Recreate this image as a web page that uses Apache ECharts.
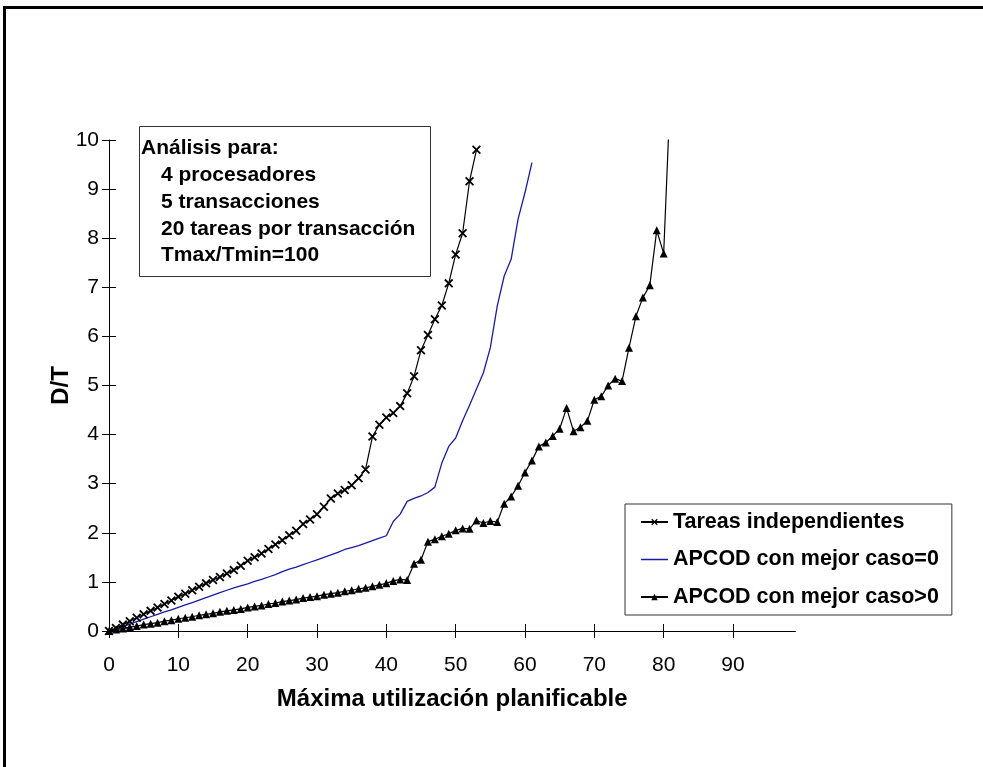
<!DOCTYPE html>
<html>
<head>
<meta charset="utf-8">
<script src="https://cdn.jsdelivr.net/npm/echarts@6/dist/echarts.min.js"></script>
<style>
html,body{margin:0;padding:0;background:#fff;}
#chart{width:983px;height:767px;}
</style>
</head>
<body>
<div id="chart"></div>
<script>
// ---- data ----
const xTareas = [0,1,2,3,4,5,6,7,8,9,10,11,12,13,14,15,16,17,18,19,20,21,22,23,24,25,26,27,28,29,30,31,32,33,34,35,36,37,38,39,40,41,42,43,44,45,46,47,48,49,50,51,52,53];
const yTareas = [0,0.06,0.13,0.20,0.27,0.34,0.41,0.48,0.55,0.62,0.70,0.76,0.83,0.90,0.97,1.04,1.10,1.17,1.24,1.33,1.43,1.50,1.58,1.67,1.76,1.85,1.95,2.04,2.18,2.27,2.38,2.53,2.70,2.80,2.87,2.97,3.11,3.29,3.96,4.20,4.35,4.44,4.58,4.84,5.19,5.72,6.03,6.35,6.63,7.08,7.67,8.10,9.16,9.80];

const xApcod0 = [0,1,2,3,4,5,6,7,8,9,10,11,12,13,14,15,16,17,18,19,20,21,22,23,24,25,26,27,28,29,30,31,32,33,34,35,36,37,38,39,40,41,42,43,44,45,46,47,48,49,50,51,52,53,54,55,56,57,58,59,60,61];
const yApcod0 = [0,0.04,0.09,0.14,0.19,0.24,0.29,0.34,0.39,0.43,0.48,0.53,0.58,0.63,0.68,0.73,0.78,0.83,0.88,0.92,0.96,1.01,1.05,1.10,1.15,1.21,1.26,1.30,1.35,1.40,1.45,1.50,1.55,1.60,1.66,1.70,1.74,1.79,1.84,1.89,1.94,2.23,2.38,2.64,2.70,2.75,2.82,2.93,3.42,3.76,3.93,4.28,4.60,4.93,5.26,5.77,6.62,7.23,7.57,8.39,8.93,9.54];

const xApcodPos = [0,1,2,3,4,5,6,7,8,9,10,11,12,13,14,15,16,17,18,19,20,21,22,23,24,25,26,27,28,29,30,31,32,33,34,35,36,37,38,39,40,41,42,43,44,45,46,47,48,49,50,51,52,53,54,55,56,57,58,59,60,61,62,63,64,65,66,67,68,69,70,71,72,73,74,75,76,77,78,79,80,81];
const yApcodPos = [0,0.03,0.05,0.08,0.10,0.13,0.15,0.17,0.20,0.22,0.25,0.27,0.29,0.32,0.34,0.36,0.39,0.41,0.43,0.45,0.48,0.50,0.52,0.55,0.57,0.60,0.62,0.64,0.67,0.69,0.71,0.74,0.76,0.78,0.81,0.83,0.86,0.88,0.91,0.94,0.97,1.02,1.05,1.04,1.37,1.45,1.82,1.87,1.93,1.98,2.05,2.09,2.08,2.25,2.20,2.24,2.22,2.59,2.74,2.96,3.23,3.47,3.76,3.84,3.97,4.12,4.54,4.07,4.15,4.28,4.71,4.78,5.00,5.14,5.09,5.77,6.41,6.79,7.04,8.16,7.69,11.1];

const seriesNames = ['Tareas independientes','APCOD con mejor caso=0','APCOD con mejor caso>0'];
const xTicks = [0,10,20,30,40,50,60,70,80,90];
const yTicks = [0,1,2,3,4,5,6,7,8,9,10];
const xTitle = 'Máxima utilización planificable';
const yTitle = 'D/T';
const noteLines = ['Análisis para:','4 procesadores','5 transacciones','20 tareas por transacción','Tmax/Tmin=100'];

// ---- chart ----
const FONT = '"Liberation Sans", Arial, sans-serif';
const BLUE = '#1a1aa6';
const pair = (xs, ys) => xs.map((x, i) => [x, ys[i]]);
const crossSymbol = 'path://M0,1.4L1.4,0L10,8.6L8.6,10Z M8.6,0L10,1.4L1.4,10L0,8.6Z';
const plainLineIcon = 'path://M0,0L0.01,0 M0,3.3L27,3.3L27,4.8L0,4.8Z M0,8L0.01,8';

const gridBox = {left:109, right:187.6, top:140, bottom:136};
const chart = echarts.init(document.getElementById('chart'), null, {renderer:'canvas'});

const baseX = {type:'value', min:0, max:99, interval:10, splitLine:{show:false}};
const baseY = {type:'value', min:0, max:10, interval:1, splitLine:{show:false}};

const option = {
  animation:false,
  backgroundColor:'#fff',
  textStyle:{fontFamily:FONT},
  grid:[Object.assign({}, gridBox), Object.assign({}, gridBox)],
  xAxis:[
    Object.assign({}, baseX, {
      gridIndex:0,
      axisLine:{show:true, onZero:false, lineStyle:{color:'#000', width:1}},
      axisTick:{show:true, inside:false, length:7, customValues:xTicks, lineStyle:{color:'#000'}},
      axisLabel:{show:true, customValues:xTicks, margin:24, color:'#000', fontSize:21, fontFamily:FONT},
      name:xTitle, nameLocation:'middle', nameGap:56,
      nameTextStyle:{color:'#000', fontSize:24, fontWeight:'bold', fontFamily:FONT}
    }),
    Object.assign({}, baseX, {
      gridIndex:1,
      axisLine:{show:false},
      axisTick:{show:true, inside:true, length:7, customValues:xTicks, lineStyle:{color:'#000'}},
      axisLabel:{show:false}
    })
  ],
  yAxis:[
    Object.assign({}, baseY, {
      gridIndex:0,
      axisLine:{show:true, onZero:false, lineStyle:{color:'#000', width:1}},
      axisTick:{show:true, inside:false, length:7, customValues:yTicks, lineStyle:{color:'#000'}},
      axisLabel:{show:true, customValues:yTicks, margin:10, color:'#000', fontSize:21, fontFamily:FONT},
      name:yTitle, nameLocation:'middle', nameGap:36, nameRotate:90, nameMoveOverlap:false,
      nameTextStyle:{color:'#000', fontSize:24, fontWeight:'bold', fontFamily:FONT}
    }),
    Object.assign({}, baseY, {
      gridIndex:1,
      axisLine:{show:false},
      axisTick:{show:true, inside:true, length:7, customValues:yTicks, lineStyle:{color:'#000'}},
      axisLabel:{show:false}
    })
  ],
  legend:{
    orient:'vertical',
    left:625, top:504,
    padding:[6,13,6,15],
    borderColor:'#333', borderWidth:1, borderRadius:0,
    backgroundColor:'#fff',
    itemWidth:27, itemHeight:8, itemGap:13.5,
    textStyle:{color:'#000', fontSize:21.5, fontWeight:'bold', fontFamily:FONT, lineHeight:24},
    data:[
      {name:seriesNames[0]},
      {name:seriesNames[1], icon:plainLineIcon, itemStyle:{color:BLUE, borderWidth:0}},
      {name:seriesNames[2]}
    ]
  },
  series:[
    {
      name:seriesNames[0], type:'line', xAxisIndex:0, yAxisIndex:0,
      data:pair(xTareas, yTareas),
      symbol:crossSymbol, symbolSize:9, showAllSymbol:true,
      itemStyle:{color:'#000'},
      lineStyle:{color:'#000', width:1.2},
      clip:true, z:3
    },
    {
      name:seriesNames[1], type:'line', xAxisIndex:0, yAxisIndex:0,
      data:pair(xApcod0, yApcod0),
      symbol:'none', showSymbol:false,
      itemStyle:{color:BLUE},
      lineStyle:{color:BLUE, width:1.3},
      clip:true, z:2
    },
    {
      name:seriesNames[2], type:'line', xAxisIndex:0, yAxisIndex:0,
      data:pair(xApcodPos, yApcodPos),
      symbol:'triangle', symbolSize:8, showAllSymbol:true,
      itemStyle:{color:'#000'},
      lineStyle:{color:'#000', width:1.2},
      clip:true, z:4
    }
  ],
  graphic:[
    {type:'rect', shape:{x:4.5, y:7.5, width:1400, height:1400}, style:{fill:'none', stroke:'#000', lineWidth:3}, z:0, silent:true},
    {type:'rect', shape:{x:139.5, y:126.5, width:291, height:150}, style:{fill:'#fff', stroke:'#333', lineWidth:1}, z:10}
  ]
};

const baselines = [148.7, 175.7, 202.7, 229.5, 255.7];
noteLines.forEach((t, i) => {
  option.graphic.push({
    type:'text', z:11,
    x: i === 0 ? 141 : 161, y: baselines[i],
    style:{text:t, font:'bold 21px ' + FONT, fill:'#000', verticalAlign:'middle', align:'left'}
  });
});

chart.setOption(option);
</script>
</body>
</html>
